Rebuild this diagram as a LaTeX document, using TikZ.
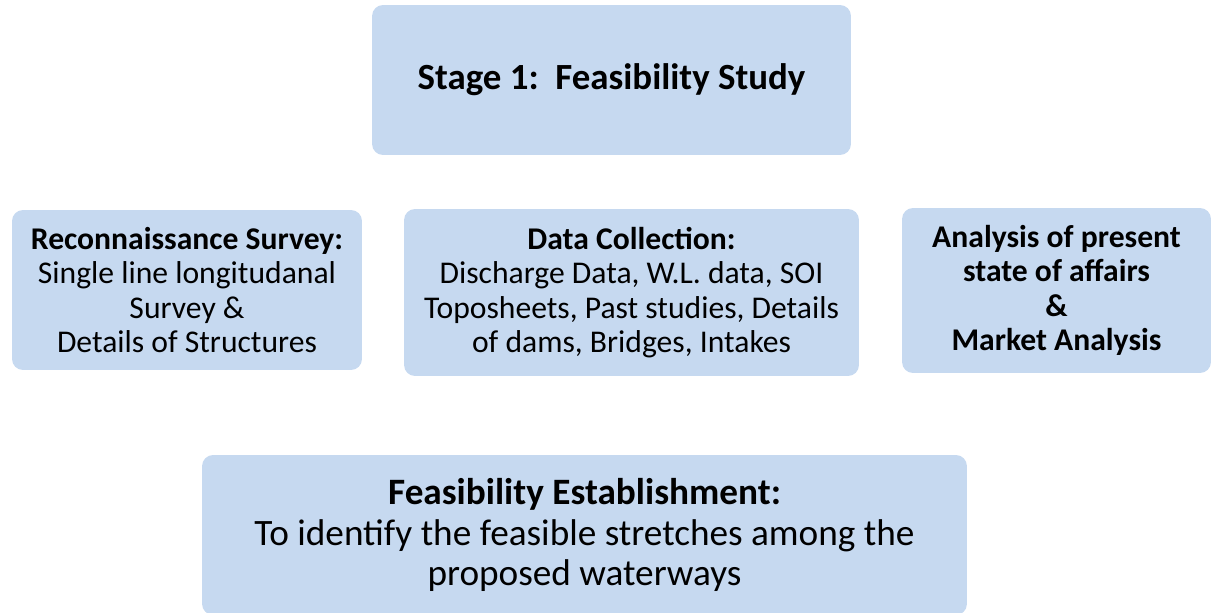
\documentclass[tikz,border=0pt]{standalone}
\usepackage{fontspec}
\setmainfont{Carlito}
\definecolor{boxblue}{HTML}{C6D9F0}

\begin{document}
\begin{tikzpicture}[x=0.02cm, y=-0.02cm,
		stagebox/.style={fill=boxblue, rounded corners=0.22cm, align=center, inner sep=0pt},
		smalltext/.style={font=\fontsize{18}{19.6}\selectfont},
		bigtext/.style={font=\fontsize{21.2}{23}\selectfont}]
			\useasboundingbox (0, 0) rectangle (1212, 612);

			\draw (611.5, 80) 	node[stagebox, minimum width=9.58cm, minimum height=3cm, font=\fontsize{21}{24}\selectfont\bfseries] 	(stage) 	{Stage 1:\ \ Feasibility Study};
			\draw (187, 290) 	node[stagebox, smalltext, minimum width=7cm, minimum height=3.2cm] 	(recon) 	{\textbf{Reconnaissance Survey:}\\Single line longitudanal\\Survey \&\\Details of Structures};
			\draw (631.5, 292.5) 	node[stagebox, smalltext, minimum width=9.1cm, minimum height=3.34cm] 	(datacoll) 	{\textbf{Data Collection:}\\Discharge Data, W.L. data, SOI\\Toposheets, Past studies, Details\\of dams, Bridges, Intakes};
			\draw (1056.5, 290.5) 	node[stagebox, minimum width=6.18cm, minimum height=3.3cm, font=\fontsize{18}{19.6}\selectfont\bfseries] 	(analysis) 	{Analysis of present\\state of affairs\\\&\\Market Analysis};
			\draw (584.5, 535) 	node[stagebox, bigtext, minimum width=15.3cm, minimum height=3.2cm] 	(establish) 	{\textbf{Feasibility Establishment:}\\To identify the feasible stretches among the\\proposed waterways};
		\end{tikzpicture}
\end{document}
